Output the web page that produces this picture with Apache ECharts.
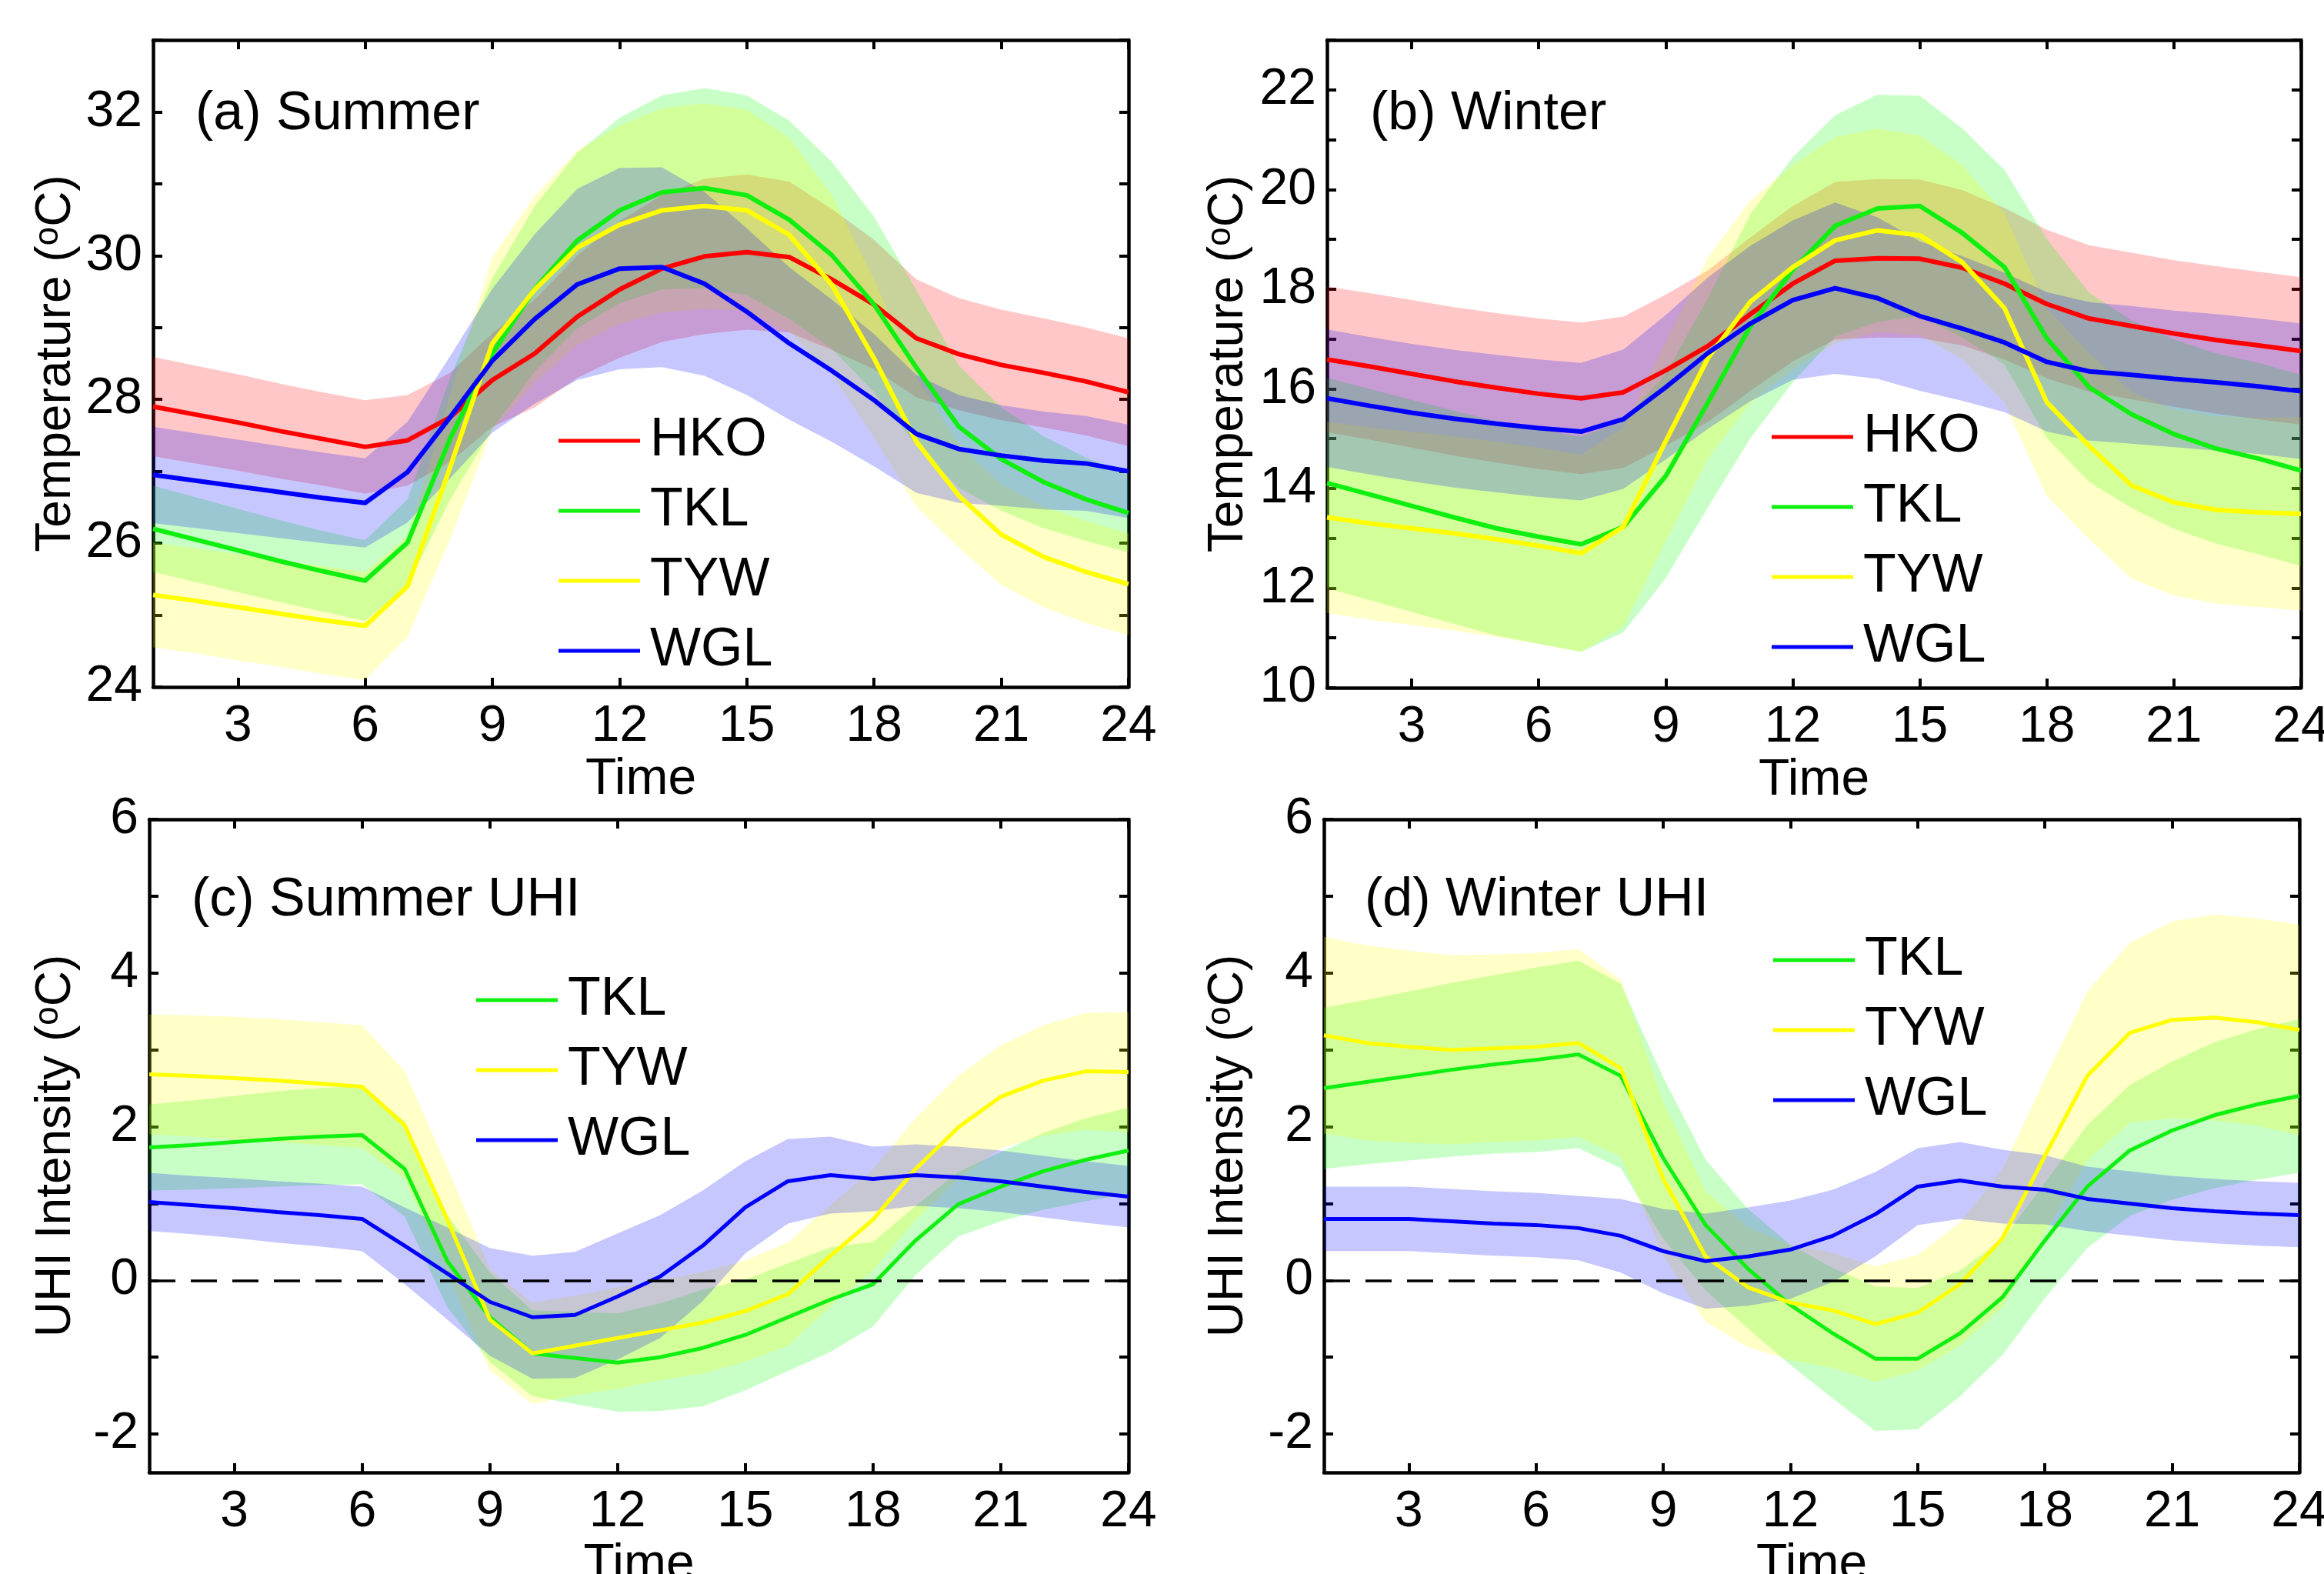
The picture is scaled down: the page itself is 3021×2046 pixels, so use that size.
<!DOCTYPE html>
<html>
<head>
<meta charset="utf-8">
<title>Diurnal temperature and UHI intensity</title>
<script src="https://cdn.jsdelivr.net/npm/echarts@6/dist/echarts.min.js"></script>
<style>
  html, body { margin: 0; padding: 0; background: #fff; }
  #chart { width: 3021px; height: 2046px; }
</style>
</head>
<body>
<div id="chart"></div>
<script>
// hour of day
const hours = [1, 2, 3, 4, 5, 6, 7, 8, 9, 10, 11, 12, 13, 14, 15, 16, 17, 18, 19, 20, 21, 22, 23, 24]
const xTicks = [3, 6, 9, 12, 15, 18, 21, 24]

const summerTicks = [24, 25, 26, 27, 28, 29, 30, 31, 32, 33]
const summerLabels = [24, 26, 28, 30, 32]
const winterTicks = [10, 11, 12, 13, 14, 15, 16, 17, 18, 19, 20, 21, 22, 23]
const winterLabels = [10, 12, 14, 16, 18, 20, 22]
const uhiTicks = [-2, -1, 0, 1, 2, 3, 4, 5, 6]
const uhiLabels = [-2, 0, 2, 4, 6]

// (a) summer temperature: mean and spread
const aHKO = [27.90, 27.79, 27.68, 27.56, 27.45, 27.34, 27.43, 27.75, 28.27, 28.64, 29.15, 29.53, 29.82, 29.99, 30.05, 29.98, 29.67, 29.32, 28.85, 28.63, 28.48, 28.37, 28.25, 28.10]
const aHKOsd = [0.69, 0.68, 0.67, 0.66, 0.65, 0.65, 0.63, 0.62, 0.65, 0.75, 0.85, 0.95, 1.02, 1.08, 1.08, 1.05, 0.98, 0.90, 0.82, 0.78, 0.77, 0.76, 0.75, 0.75]
const aTKL = [26.20, 26.05, 25.90, 25.75, 25.61, 25.48, 26.01, 27.45, 28.64, 29.54, 30.21, 30.63, 30.88, 30.94, 30.84, 30.50, 30.01, 29.32, 28.44, 27.62, 27.17, 26.85, 26.61, 26.42]
const aTKLsd = [0.60, 0.59, 0.58, 0.57, 0.56, 0.56, 0.60, 0.85, 1.05, 1.15, 1.22, 1.29, 1.35, 1.39, 1.39, 1.38, 1.30, 1.22, 1.08, 0.85, 0.72, 0.64, 0.58, 0.55]
const aTYW = [25.28, 25.20, 25.11, 25.02, 24.93, 24.85, 25.40, 27.05, 28.78, 29.53, 30.11, 30.43, 30.63, 30.69, 30.63, 30.29, 29.60, 28.57, 27.41, 26.66, 26.12, 25.81, 25.60, 25.43]
const aTYWsd = [0.73, 0.73, 0.74, 0.74, 0.75, 0.75, 0.70, 1.00, 1.20, 1.30, 1.35, 1.38, 1.42, 1.43, 1.40, 1.35, 1.25, 1.10, 0.90, 0.72, 0.70, 0.70, 0.71, 0.71]
const aWGL = [26.95, 26.87, 26.79, 26.71, 26.63, 26.56, 26.99, 27.75, 28.54, 29.12, 29.60, 29.82, 29.84, 29.61, 29.22, 28.78, 28.40, 27.99, 27.52, 27.31, 27.22, 27.15, 27.11, 27.00]
const aWGLsd = [0.67, 0.66, 0.65, 0.64, 0.63, 0.62, 0.70, 0.85, 1.00, 1.18, 1.33, 1.40, 1.39, 1.28, 1.16, 1.06, 0.99, 0.92, 0.82, 0.75, 0.70, 0.68, 0.66, 0.65]

// (b) winter temperature
const bHKO = [16.59, 16.45, 16.30, 16.15, 16.02, 15.90, 15.81, 15.93, 16.37, 16.86, 17.50, 18.11, 18.57, 18.62, 18.61, 18.43, 18.11, 17.70, 17.41, 17.26, 17.11, 16.98, 16.87, 16.76]
const bHKOsd = [1.46, 1.47, 1.48, 1.49, 1.50, 1.51, 1.52, 1.52, 1.52, 1.52, 1.54, 1.56, 1.58, 1.59, 1.59, 1.56, 1.52, 1.49, 1.47, 1.47, 1.47, 1.48, 1.48, 1.48]
const bTKL = [14.11, 13.88, 13.65, 13.42, 13.20, 13.03, 12.88, 13.23, 14.25, 15.73, 17.26, 18.39, 19.27, 19.62, 19.67, 19.13, 18.44, 17.01, 16.03, 15.49, 15.09, 14.80, 14.60, 14.36]
const bTKLsd = [2.11, 2.12, 2.13, 2.14, 2.15, 2.15, 2.16, 2.12, 2.05, 2.10, 2.25, 2.26, 2.22, 2.28, 2.21, 2.10, 1.95, 2.00, 1.90, 1.88, 1.90, 1.91, 1.92, 1.92]
const bTYW = [13.42, 13.30, 13.20, 13.10, 12.98, 12.85, 12.70, 13.23, 14.95, 16.62, 17.75, 18.44, 18.98, 19.18, 19.08, 18.54, 17.62, 15.73, 14.85, 14.06, 13.72, 13.57, 13.52, 13.49]
const bTYWsd = [1.92, 1.93, 1.94, 1.95, 1.96, 1.97, 1.98, 2.00, 2.01, 2.02, 2.03, 2.05, 2.07, 2.04, 2.00, 1.95, 1.90, 1.88, 1.87, 1.87, 1.87, 1.88, 1.90, 1.94]
const bWGL = [15.81, 15.66, 15.52, 15.40, 15.30, 15.21, 15.14, 15.39, 16.03, 16.72, 17.31, 17.78, 18.02, 17.82, 17.46, 17.21, 16.93, 16.54, 16.35, 16.28, 16.20, 16.13, 16.05, 15.95]
const bWGLsd = [1.38, 1.38, 1.38, 1.38, 1.38, 1.38, 1.38, 1.40, 1.45, 1.52, 1.56, 1.60, 1.72, 1.62, 1.50, 1.45, 1.40, 1.40, 1.39, 1.38, 1.37, 1.37, 1.36, 1.36]

// (c) summer UHI intensity
const cTKL = [1.73, 1.76, 1.80, 1.84, 1.87, 1.89, 1.45, 0.25, -0.48, -0.95, -1.01, -1.07, -1.00, -0.88, -0.71, -0.48, -0.25, -0.05, 0.52, 0.99, 1.22, 1.42, 1.57, 1.69]
const cTKLsd = [0.56, 0.58, 0.60, 0.62, 0.63, 0.64, 0.62, 0.60, 0.58, 0.56, 0.60, 0.64, 0.70, 0.76, 0.72, 0.70, 0.68, 0.55, 0.45, 0.42, 0.45, 0.50, 0.54, 0.56]
const cTYW = [2.68, 2.66, 2.63, 2.60, 2.56, 2.52, 2.02, 0.79, -0.51, -0.95, -0.85, -0.75, -0.65, -0.55, -0.40, -0.18, 0.32, 0.79, 1.45, 1.99, 2.39, 2.60, 2.72, 2.71]
const cTYWsd = [0.78, 0.79, 0.80, 0.80, 0.80, 0.80, 0.70, 0.68, 0.66, 0.66, 0.65, 0.66, 0.65, 0.66, 0.66, 0.67, 0.66, 0.66, 0.66, 0.67, 0.67, 0.72, 0.76, 0.78]
const cWGL = [1.02, 0.98, 0.94, 0.89, 0.85, 0.80, 0.45, 0.09, -0.28, -0.48, -0.45, -0.21, 0.05, 0.45, 0.95, 1.29, 1.37, 1.32, 1.37, 1.34, 1.29, 1.22, 1.15, 1.09]
const cWGLsd = [0.38, 0.38, 0.39, 0.40, 0.41, 0.42, 0.50, 0.60, 0.70, 0.80, 0.82, 0.82, 0.80, 0.72, 0.60, 0.55, 0.50, 0.42, 0.40, 0.40, 0.40, 0.40, 0.40, 0.40]

// (d) winter UHI intensity
const dTKL = [2.50, 2.58, 2.66, 2.74, 2.81, 2.87, 2.94, 2.66, 1.59, 0.72, 0.15, -0.32, -0.69, -1.02, -1.02, -0.69, -0.22, 0.52, 1.22, 1.69, 1.95, 2.15, 2.29, 2.40]
const dTKLsd = [1.05, 1.07, 1.10, 1.13, 1.16, 1.20, 1.22, 1.20, 1.05, 0.85, 0.78, 0.78, 0.85, 0.94, 0.92, 0.82, 0.75, 0.75, 0.80, 0.85, 0.90, 0.95, 0.98, 1.00]
const dTYW = [3.19, 3.09, 3.04, 3.00, 3.02, 3.04, 3.09, 2.76, 1.32, 0.31, -0.09, -0.29, -0.39, -0.57, -0.42, -0.05, 0.55, 1.62, 2.66, 3.22, 3.39, 3.42, 3.36, 3.26]
const dTYWsd = [1.28, 1.27, 1.25, 1.23, 1.22, 1.22, 1.22, 1.15, 1.00, 0.85, 0.78, 0.75, 0.75, 0.75, 0.75, 0.80, 0.90, 1.00, 1.10, 1.17, 1.28, 1.34, 1.35, 1.37]
const dWGL = [0.80, 0.80, 0.80, 0.77, 0.74, 0.72, 0.68, 0.58, 0.38, 0.25, 0.31, 0.40, 0.58, 0.86, 1.22, 1.30, 1.22, 1.18, 1.06, 1.00, 0.94, 0.90, 0.87, 0.85]
const dWGLsd = [0.42, 0.42, 0.42, 0.42, 0.42, 0.42, 0.42, 0.48, 0.55, 0.62, 0.64, 0.64, 0.60, 0.55, 0.50, 0.50, 0.48, 0.45, 0.42, 0.42, 0.42, 0.42, 0.42, 0.42]

const FONT = 'Liberation Sans, Arial, Helvetica, sans-serif'
const lineColors = { HKO: '#ff0000', TKL: '#10f010', TYW: '#ffff00', WGL: '#0000ff' }
const bandColors = {
  HKO: 'rgba(255,0,0,0.22)',
  TKL: 'rgba(0,255,0,0.22)',
  TYW: 'rgba(255,255,0,0.22)',
  WGL: 'rgba(0,0,255,0.22)'
}

const panels = [
  {
    grid: { left: 199, top: 52, width: 1268, height: 841 },
    min: 24, max: 33, ticks: summerTicks, labels: summerLabels,
    yName: 'Temperature ({sup|o}C)', nameGap: 94,
    title: '(a) Summer', titleAt: [254, 114], legendAt: [726, 538],
    lineWidth: 6, zero: false,
    stations: [['HKO', aHKO, aHKOsd], ['TKL', aTKL, aTKLsd], ['TYW', aTYW, aTYWsd], ['WGL', aWGL, aWGLsd]]
  },
  {
    grid: { left: 1725, top: 52, width: 1266, height: 842 },
    min: 10, max: 23, ticks: winterTicks, labels: winterLabels,
    yName: 'Temperature ({sup|o}C)', nameGap: 96,
    title: '(b) Winter', titleAt: [1781, 114], legendAt: [2303, 533],
    lineWidth: 6, zero: false,
    stations: [['HKO', bHKO, bHKOsd], ['TKL', bTKL, bTKLsd], ['TYW', bTYW, bTYWsd], ['WGL', bWGL, bWGLsd]]
  },
  {
    grid: { left: 194, top: 1065, width: 1273, height: 849 },
    min: -2.5, max: 6, ticks: uhiTicks, labels: uhiLabels,
    yName: 'UHI Intensity ({sup|o}C)', nameGap: 89,
    title: '(c) Summer UHI', titleAt: [249, 1136], legendAt: [619, 1265],
    lineWidth: 5, zero: true,
    stations: [['TKL', cTKL, cTKLsd], ['TYW', cTYW, cTYWsd], ['WGL', cWGL, cWGLsd]]
  },
  {
    grid: { left: 1721, top: 1065, width: 1268, height: 849 },
    min: -2.5, max: 6, ticks: uhiTicks, labels: uhiLabels,
    yName: 'UHI Intensity ({sup|o}C)', nameGap: 92,
    title: '(d) Winter UHI', titleAt: [1774, 1136], legendAt: [2305, 1213],
    lineWidth: 5, zero: true,
    stations: [['TKL', dTKL, dTKLsd], ['TYW', dTYW, dTYWsd], ['WGL', dWGL, dWGLsd]]
  }
]

const axisLine = { onZero: false, lineStyle: { color: '#000', width: 4.5 } }
const tickStyle = { color: '#000', width: 4 }

// whole spread polygon drawn once, from every row of the series data
function renderBand(params, api) {
  if (params.dataIndexInside !== 0) return null
  const n = params.dataInsideLength
  const upper = []
  const lower = []
  for (let j = 0; j < n; j++) {
    const h = api.value(0, j)
    upper.push(api.coord([h, api.value(2, j)]))
    lower.push(api.coord([h, api.value(1, j)]))
  }
  return {
    type: 'polygon',
    shape: { points: upper.concat(lower.reverse()) },
    style: { fill: api.visual('color') },
    silent: true
  }
}

const grids = []
const xAxes = []
const yAxes = []
const series = []
const titles = []
const legends = []

panels.forEach((p, g) => {
  // keep the plot box where it is even if labels run off the page
  grids.push({ ...p.grid, containLabel: false, outerBoundsMode: 'none' })

  const xBase = { type: 'value', gridIndex: g, min: 1, max: 24, splitLine: { show: false }, axisLine: axisLine }
  xAxes.push({
    ...xBase,
    position: 'bottom',
    name: 'Time',
    nameLocation: 'middle',
    nameGap: 88,
    nameTextStyle: { fontSize: 66, color: '#000', fontFamily: FONT },
    axisTick: { inside: true, length: 12, customValues: xTicks, lineStyle: tickStyle },
    axisLabel: { customValues: xTicks, fontSize: 66, color: '#000', fontFamily: FONT, margin: 19 }
  })
  xAxes.push({
    ...xBase,
    position: 'top',
    axisTick: { inside: true, length: 12, customValues: xTicks, lineStyle: tickStyle },
    axisLabel: { show: false }
  })

  const yBase = { type: 'value', gridIndex: g, min: p.min, max: p.max, splitLine: { show: false }, axisLine: axisLine }
  yAxes.push({
    ...yBase,
    position: 'left',
    name: p.yName,
    nameLocation: 'middle',
    nameGap: p.nameGap,
    nameTextStyle: {
      fontSize: 64, color: '#000', fontFamily: FONT,
      rich: { sup: { fontSize: 44, color: '#000', fontFamily: FONT, verticalAlign: 'top' } }
    },
    axisTick: { inside: true, length: 12, customValues: p.ticks, lineStyle: tickStyle },
    axisLabel: { customValues: p.labels, fontSize: 66, color: '#000', fontFamily: FONT, margin: 14 }
  })
  yAxes.push({
    ...yBase,
    position: 'right',
    axisTick: { inside: true, length: 12, customValues: p.ticks, lineStyle: tickStyle },
    axisLabel: { show: false }
  })

  p.stations.forEach(([name, mean, sd]) => {
    series.push({
      name: name + ' spread', type: 'custom', xAxisIndex: 2 * g, yAxisIndex: 2 * g,
      renderItem: renderBand, clip: true, silent: true, z: 1,
      itemStyle: { color: bandColors[name] },
      encode: { x: 0, y: [1, 2] },
      data: hours.map((h, i) => [h, mean[i] - sd[i], mean[i] + sd[i]])
    })
  })

  if (p.zero) {
    series.push({
      name: 'zero', type: 'line', xAxisIndex: 2 * g, yAxisIndex: 2 * g, data: [], z: 2,
      markLine: {
        silent: true, symbol: 'none', label: { show: false },
        lineStyle: { color: '#000', width: 3.5, type: [34, 20] },
        data: [{ yAxis: 0 }]
      }
    })
  }

  p.stations.forEach(([name, mean]) => {
    series.push({
      name: name, type: 'line', xAxisIndex: 2 * g, yAxisIndex: 2 * g,
      symbol: 'none', z: 3, color: lineColors[name],
      itemStyle: { color: lineColors[name] },
      lineStyle: { color: lineColors[name], width: p.lineWidth },
      data: hours.map((h, i) => [h, mean[i]])
    })
  })

  titles.push({
    text: p.title, left: p.titleAt[0], top: p.titleAt[1], padding: 0,
    textStyle: { fontSize: 70, fontWeight: 'normal', color: '#000', fontFamily: FONT }
  })

  legends.push({
    data: p.stations.map(s => s[0]),
    orient: 'vertical', left: p.legendAt[0], top: p.legendAt[1],
    padding: 0, itemGap: 21, itemWidth: 106, itemHeight: 5, icon: 'rect',
    selectedMode: false,
    textStyle: { fontSize: 70, color: '#000', fontFamily: FONT, padding: [0, 0, 0, 8] }
  })
})

const chart = echarts.init(document.getElementById('chart'), null, { renderer: 'canvas' })
chart.setOption({
  backgroundColor: '#fff',
  animation: false,
  title: titles,
  legend: legends,
  grid: grids,
  xAxis: xAxes,
  yAxis: yAxes,
  series: series
})
</script>
</body>
</html>
